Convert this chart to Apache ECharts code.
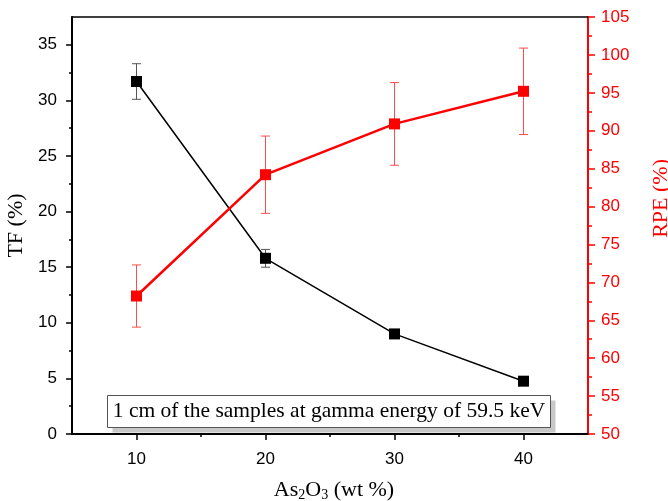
<!DOCTYPE html>
<html>
<head>
<meta charset="utf-8">
<script src="https://cdn.jsdelivr.net/npm/echarts@6/dist/echarts.min.js"></script>
<style>
  html, body { margin: 0; padding: 0; background: #fff; }
  #chart { width: 668px; height: 501px; }
</style>
</head>
<body>
<div id="chart"></div>
<script>
// As2O3 loading (wt %)
const loadings = [10, 20, 30, 40];
// Transmission factor TF (%) with its error half-widths
const tfValues = [31.7, 15.8, 9.0, 4.75];
const tfErrors = [1.6, 0.8, 0.3, 0.2];
// Relative photon efficiency RPE (%) with its error half-widths
const rpeValues = [68.2, 84.2, 90.9, 95.2];
const rpeErrors = [4.1, 5.1, 5.45, 5.7];

// Tick positions
const xMajorTicks = [10, 20, 30, 40];
const xMinorTicks = [15, 25, 35];
const tfMajorTicks = [0, 5, 10, 15, 20, 25, 30, 35];
const tfMinorTicks = [2.5, 7.5, 12.5, 17.5, 22.5, 27.5, 32.5];
const rpeMinorTicks = [52.5, 57.5, 62.5, 67.5, 72.5, 77.5, 82.5, 87.5, 92.5, 97.5, 102.5];

const RED = '#ff0000';
const SANS = '"Liberation Sans", Arial, sans-serif';
const SERIF = '"Liberation Serif", "Times New Roman", serif';

const tfLine = loadings.map((x, i) => [x, tfValues[i]]);
const rpeLine = loadings.map((x, i) => [x, rpeValues[i]]);
const tfBars = loadings.map((x, i) => [x, tfValues[i] - tfErrors[i], tfValues[i] + tfErrors[i]]);
const rpeBars = loadings.map((x, i) => [x, rpeValues[i] - rpeErrors[i], rpeValues[i] + rpeErrors[i]]);

function errorBar(color) {
  return function (params, api) {
    const x = api.value(0);
    const lo = api.coord([x, api.value(1)]);
    const hi = api.coord([x, api.value(2)]);
    const cap = 4.5;
    const style = { stroke: color, lineWidth: 1 };
    return {
      type: 'group',
      children: [
        { type: 'line', shape: { x1: lo[0], y1: lo[1], x2: hi[0], y2: hi[1] }, style },
        { type: 'line', shape: { x1: lo[0] - cap, y1: lo[1], x2: lo[0] + cap, y2: lo[1] }, style },
        { type: 'line', shape: { x1: hi[0] - cap, y1: hi[1], x2: hi[0] + cap, y2: hi[1] }, style }
      ]
    };
  };
}

const chart = echarts.init(document.getElementById('chart'), null, { renderer: 'canvas' });

const option = {
  animation: false,
  backgroundColor: '#fff',
  grid: { left: 72, right: 80, top: 17, bottom: 67, containLabel: false, outerBoundsMode: 'none' },
  xAxis: [
    {
      type: 'value', min: 5, max: 45, position: 'bottom',
      name: '{t|As}{s|2}{t|O}{s|3}{t| (wt %)}',
      nameLocation: 'middle', nameGap: 45,
      nameTextStyle: {
        padding: [0, 0, 0, 8],
        rich: {
          t: { fontFamily: SERIF, fontSize: 22, color: '#000' },
          s: { fontFamily: SERIF, fontSize: 14, color: '#000', verticalAlign: 'bottom', padding: [9, 0, 0, 0] }
        }
      },
      axisLine: { show: true, onZero: false, lineStyle: { color: '#000', width: 2 } },
      axisTick: { show: true, inside: false, length: 6, customValues: xMajorTicks, lineStyle: { color: '#000', width: 1.5 } },
      axisLabel: { show: true, customValues: xMajorTicks, margin: 17, fontFamily: SANS, fontSize: 17, color: '#000' },
      splitLine: { show: false }
    },
    {
      type: 'value', min: 5, max: 45, position: 'bottom',
      axisLine: { show: false },
      axisTick: { show: true, inside: false, length: 3, customValues: xMinorTicks, lineStyle: { color: '#000', width: 1.5 } },
      axisLabel: { show: false },
      splitLine: { show: false }
    },
    {
      type: 'value', min: 5, max: 45, position: 'top',
      axisLine: { show: true, onZero: false, lineStyle: { color: '#000', width: 1.5 } },
      axisTick: { show: false }, axisLabel: { show: false }, splitLine: { show: false }
    }
  ],
  yAxis: [
    {
      type: 'value', min: 0, max: 37.5, position: 'left',
      name: 'TF (%)', nameLocation: 'middle', nameGap: 41, nameRotate: 90,
      nameTextStyle: { fontFamily: SERIF, fontSize: 22, color: '#000' },
      axisLine: { show: true, onZero: false, lineStyle: { color: '#000', width: 2 } },
      axisTick: { show: true, inside: false, length: 6, customValues: tfMajorTicks, lineStyle: { color: '#000', width: 1.5 } },
      axisLabel: { show: true, customValues: tfMajorTicks, margin: 15, fontFamily: SANS, fontSize: 17, color: '#000' },
      splitLine: { show: false }
    },
    {
      type: 'value', min: 0, max: 37.5, position: 'left',
      axisLine: { show: false },
      axisTick: { show: true, inside: false, length: 3, customValues: tfMinorTicks, lineStyle: { color: '#000', width: 1.5 } },
      axisLabel: { show: false }, splitLine: { show: false }
    },
    {
      type: 'value', min: 50, max: 105, interval: 5, position: 'right',
      axisLine: { show: true, onZero: false, lineStyle: { color: RED, width: 2 } },
      axisTick: { show: true, inside: false, length: 7, lineStyle: { color: RED, width: 1.5 } },
      axisLabel: { show: true, margin: 13, fontFamily: SANS, fontSize: 17, color: RED },
      splitLine: { show: false }
    },
    {
      type: 'value', min: 50, max: 105, position: 'right',
      axisLine: { show: false },
      axisTick: { show: true, inside: false, length: 4, customValues: rpeMinorTicks, lineStyle: { color: RED, width: 1.5 } },
      axisLabel: { show: false }, splitLine: { show: false }
    }
  ],
  series: [
    {
      type: 'custom', xAxisIndex: 0, yAxisIndex: 0, z: 2,
      renderItem: errorBar('#555'), data: tfBars, silent: true
    },
    {
      type: 'custom', xAxisIndex: 0, yAxisIndex: 2, z: 2,
      renderItem: errorBar('#ff4d4d'), data: rpeBars, silent: true
    },
    {
      name: 'TF', type: 'line', xAxisIndex: 0, yAxisIndex: 0, z: 3,
      data: tfLine, symbol: 'rect', symbolSize: 11, showSymbol: true,
      itemStyle: { color: '#000' }, lineStyle: { color: '#000', width: 1.5 }
    },
    {
      name: 'RPE', type: 'line', xAxisIndex: 0, yAxisIndex: 2, z: 3,
      data: rpeLine, symbol: 'rect', symbolSize: 11, showSymbol: true,
      itemStyle: { color: RED }, lineStyle: { color: RED, width: 2.5 }
    }
  ],
  graphic: [
    {
      type: 'text', left: 650, top: 159, rotation: Math.PI / 2,
      style: { text: 'RPE (%)', fontFamily: SERIF, fontSize: 22, fill: RED }
    },
    {
      type: 'group', left: 107, top: 395,
      children: [
        { type: 'rect', shape: { x: 5, y: 5, width: 443, height: 32 }, style: { fill: '#c8c8c8' } },
        { type: 'rect', shape: { x: 0, y: 0, width: 443, height: 32 }, style: { fill: '#fff', stroke: '#555', lineWidth: 1 } },
        {
          type: 'text', x: 221.5, y: 16,
          style: {
            text: '1 cm of the samples at gamma energy of 59.5 keV',
            fontFamily: SERIF, fontSize: 21.5, fill: '#000', align: 'center', verticalAlign: 'middle'
          }
        }
      ]
    }
  ]
};

chart.setOption(option);
</script>
</body>
</html>
